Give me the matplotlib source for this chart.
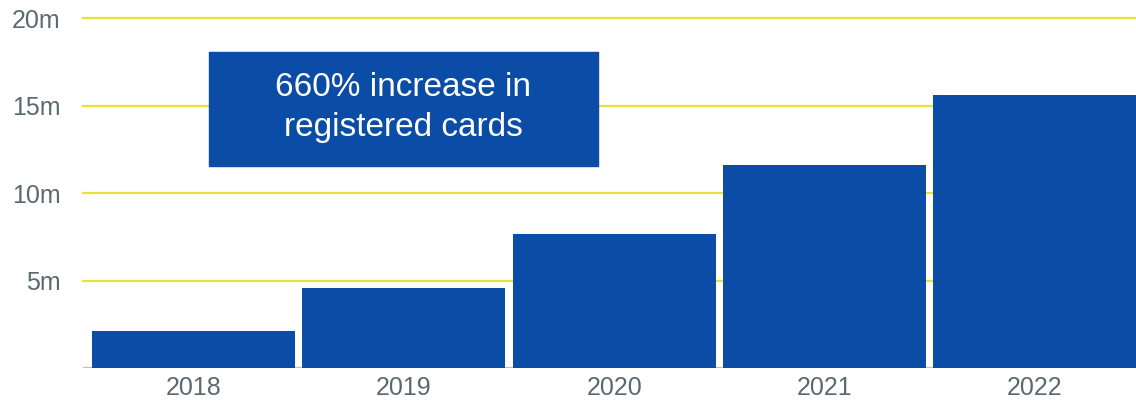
import matplotlib.pyplot as plt
from matplotlib.patches import Rectangle

years = ['2018', '2019', '2020', '2021', '2022']
cards_m = [2.1, 4.6, 7.65, 11.6, 15.6]
y_ticks = [5, 10, 15, 20]
y_labels = ['5m', '10m', '15m', '20m']
note = '660% increase in\nregistered cards'

bar_blue = '#0b4ca6'
grid_yellow = '#e6df3c'
label_grey = '#5c6870'

plt.rcParams['font.family'] = ['Liberation Sans', 'DejaVu Sans']

fig = plt.figure(figsize=(11.36, 4.04), dpi=100)
ax = fig.add_axes([0.073, 0.089, 0.927, 0.866])

for y in y_ticks:
    ax.axhline(y, color=grid_yellow, lw=1.6, zorder=1, clip_on=False)
ax.axhline(0, color='#e8c24a', lw=1.6, zorder=1)

xs = range(len(years))
ax.bar(xs, cards_m, width=0.965, color=bar_blue, zorder=2)

ax.set_xlim(-0.525, 4.48)
ax.set_ylim(0, 20)
ax.set_xticks(list(xs))
ax.set_xticklabels(years)
ax.set_yticks(y_ticks)
ax.set_yticklabels(y_labels)
ax.tick_params(length=0, labelsize=18, colors=label_grey)
ax.tick_params(axis='y', pad=16)
ax.tick_params(axis='x', pad=6)
for s in ax.spines.values():
    s.set_visible(False)

ax.add_patch(Rectangle((0.1197, 0.577), 0.369, 0.326, transform=ax.transAxes,
                       color=bar_blue, zorder=3))
ax.text(0.3043, 0.745, note, transform=ax.transAxes, ha='center', va='center',
        color='white', fontsize=24, linespacing=1.35, zorder=4)

fig.savefig('out.png')
